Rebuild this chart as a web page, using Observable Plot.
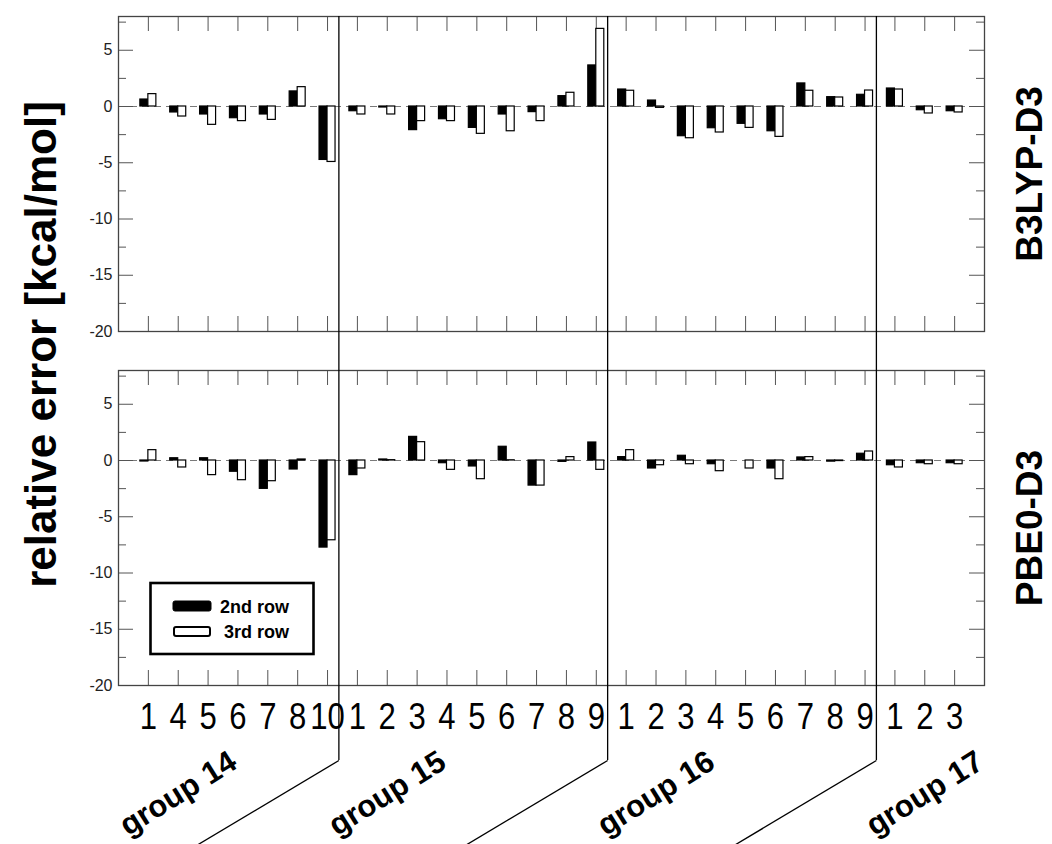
<!DOCTYPE html>
<html>
<head>
<meta charset="utf-8">
<script src="https://cdn.jsdelivr.net/npm/d3@7"></script>
<script src="https://cdn.jsdelivr.net/npm/@observablehq/plot@0.6"></script>
<style>
  body { margin: 0; background: #fff; }
  #wrap { position: relative; width: 1052px; height: 844px; overflow: hidden; }
  #legend { position: absolute; left: 0; top: 0; pointer-events: none; }
</style>
</head>
<body>
<div id="wrap"></div>
<script>
// ---------------- data ----------------
const groups = ["group 14", "group 15", "group 16", "group 17"];
const groupTickLabels = [
  ["1", "4", "5", "6", "7", "8", "10"],
  ["1", "2", "3", "4", "5", "6", "7", "8", "9"],
  ["1", "2", "3", "4", "5", "6", "7", "8", "9"],
  ["1", "2", "3"]
];
const methods = ["B3LYP-D3", "PBE0-D3"];
const series = ["2nd row", "3rd row"];

const b3lyp2nd = [0.62, -0.53, -0.71, -1.04, -0.71, 1.34, -4.75,
                  -0.42, -0.09, -2.1, -1.13, -1.9, -0.71, -0.5, 0.92, 3.65,
                  1.51, 0.53, -2.64, -1.93, -1.54, -2.2, 2.05, 0.83, 1.04,
                  1.6, -0.33, -0.42];
const b3lyp3rd = [1.1, -0.89, -1.63, -1.3, -1.19, 1.72, -4.93,
                  -0.71, -0.71, -1.3, -1.3, -2.43, -2.2, -1.3, 1.22, 6.9,
                  1.4, -0.12, -2.82, -2.31, -1.9, -2.7, 1.4, 0.8, 1.42,
                  1.51, -0.62, -0.53];
const pbe02nd = [-0.09, 0.2, 0.2, -1.0, -2.52, -0.8, -7.74,
                 -1.3, 0.09, 2.1, -0.24, -0.53, 1.22, -2.23, -0.12, 1.6,
                 0.3, -0.71, 0.42, -0.33, 0.0, -0.71, 0.27, -0.1, 0.6,
                 -0.42, -0.24, -0.24];
const pbe03rd = [0.92, -0.62, -1.3, -1.75, -1.84, 0.09, -7.09,
                 -0.71, 0.03, 1.63, -0.83, -1.66, 0.02, -2.23, 0.3, -0.83,
                 0.92, -0.42, -0.33, -0.95, -0.71, -1.66, 0.3, -0.05, 0.8,
                 -0.62, -0.33, -0.33];

const yMajorTicks = [-20, -15, -10, -5, 0, 5];
const yMinorTicks = [-17.5, -12.5, -7.5, -2.5, 2.5, 7.5];
const yAxisTitle = "relative error [kcal/mol]";

// ---------------- tables built from the arrays ----------------
const cats = [];
const groupStart = [];
const groupEnd = [];
groupTickLabels.forEach((labels, g) => {
  groupStart.push(cats.length + 1);
  labels.forEach(l => cats.push({idx: cats.length + 1, group: groups[g], label: l}));
  groupEnd.push(cats.length);
});
const valuesBy = {
  "B3LYP-D3": {"2nd row": b3lyp2nd, "3rd row": b3lyp3rd},
  "PBE0-D3": {"2nd row": pbe02nd, "3rd row": pbe03rd}
};
const rows = [];
for (const m of methods) for (const s of series) {
  valuesBy[m][s].forEach((v, i) => rows.push({idx: cats[i].idx, method: m, series: s, value: v}));
}
const xTickPos = cats.map(c => c.idx);

// ---------------- layout ----------------
const W = 1052, H = 844;
const mL = 118, mR = 68, mT = 16, mB = 159;
const panelH = 315, gap = 39;
const xDomain = [0, cats.length + 1];
const yDomain = [-20, 8];
const plotW = W - mL - mR;
const unitX = plotW / (xDomain[1] - xDomain[0]);
const unitY = panelH / (yDomain[1] - yDomain[0]);
const barW = 8 / unitX;
// value in the top panel's y units for an absolute pixel row (annotations only)
const topY = px => yDomain[1] - (px - mT) / unitY;
const topFacet = () => methods[0];
const seps = groupEnd.slice(0, -1).map(e => e + 0.38);
const font = "'Liberation Sans', Arial, sans-serif";

const chart = Plot.plot({
  width: W, height: H,
  marginLeft: mL, marginRight: mR, marginTop: mT, marginBottom: mB,
  style: {fontFamily: font, background: "white", overflow: "visible"},
  x: {domain: xDomain},
  y: {domain: yDomain},
  fy: {domain: methods, paddingInner: gap / (panelH + gap), paddingOuter: 0, axis: null},
  marks: [
    Plot.ruleY([0], {stroke: "#7a7a7a", strokeDasharray: "7,5", strokeWidth: 1.2}),
    // inward ticks
    Plot.tickX(xTickPos, {x: d => d, insetBottom: panelH - 15, stroke: "#555"}),
    Plot.tickX(xTickPos, {x: d => d, insetTop: panelH - 15, stroke: "#555"}),
    Plot.tickY(yMajorTicks, {y: d => d, insetRight: plotW - 15, stroke: "#555"}),
    Plot.tickY(yMajorTicks, {y: d => d, insetLeft: plotW - 15, stroke: "#555"}),
    Plot.tickY(yMinorTicks, {y: d => d, insetRight: plotW - 8, stroke: "#555"}),
    Plot.tickY(yMinorTicks, {y: d => d, insetLeft: plotW - 8, stroke: "#555"}),
    // bars
    Plot.rectY(rows, {
      x1: d => d.series === series[0] ? d.idx - barW : d.idx,
      x2: d => d.series === series[0] ? d.idx : d.idx + barW,
      y1: 0, y2: "value", fy: "method",
      fill: d => d.series === series[0] ? "black" : "white",
      stroke: "black", strokeWidth: 1.2
    }),
    Plot.frame({stroke: "#444", strokeWidth: 1.3}),
    // axes
    Plot.axisY(yMajorTicks, {anchor: "left", tickSize: 0, tickPadding: 6, fontSize: 16,
      tickFormat: d => String(d), fill: "#222", label: null}),
    Plot.axisX(xTickPos, {anchor: "bottom", tickSize: 0, tickPadding: 17, fontSize: 37,
      tickFormat: i => cats[i - 1].label, fill: "black", label: null}),
    // facet (method) labels on the right
    Plot.text(methods, {fy: d => d, text: d => d, frameAnchor: "right", textAnchor: "middle",
      rotate: -90, dx: 46, fontSize: 37, fontWeight: "bold", fill: "black"}),
    // y title
    Plot.text([yAxisTitle], {fy: topFacet, text: d => d, frameAnchor: "left", y: topY(344),
      textAnchor: "middle", rotate: -90, dx: -77, fontSize: 44, fontWeight: "bold", fill: "black"}),
    // group separators
    Plot.ruleX(seps, {x: d => d, y1: yDomain[1], y2: topY(760), fy: topFacet, stroke: "black", strokeWidth: 1.3}),
    Plot.link(seps, {x1: d => d, y1: topY(760), x2: d => d - 144 / unitX, y2: topY(846),
      fy: topFacet, stroke: "black", strokeWidth: 1.3}),
    Plot.text(groups, {x: (d, i) => groupStart[i] + 1, y: topY(793), fy: topFacet, text: d => d,
      rotate: -32, fontSize: 31, fontWeight: "bold", fill: "black"})
  ]
});

// condense the large category digits horizontally, as in the original figure
d3.select(chart).selectAll('g[aria-label="x-axis tick label"] text')
  .attr("transform", function () { return (this.getAttribute("transform") || "") + " scale(0.84,1)"; });

const wrap = document.getElementById("wrap");
wrap.appendChild(chart);

// legend box (inside lower panel)
const ns = "http://www.w3.org/2000/svg";
const lg = document.createElementNS(ns, "svg");
lg.setAttribute("id", "legend");
lg.setAttribute("width", W);
lg.setAttribute("height", H);
lg.innerHTML = `
  <rect x="150.5" y="583" width="163" height="71" fill="white" stroke="black" stroke-width="2.6"/>
  <rect x="173" y="601" width="38" height="10" rx="2" fill="black" stroke="black" stroke-width="1"/>
  <rect x="174" y="627" width="36" height="9" rx="2" fill="white" stroke="black" stroke-width="2"/>
  <text x="220" y="613" font-family="${font}" font-weight="bold" font-size="18" fill="black">${series[0]}</text>
  <text x="224" y="638" font-family="${font}" font-weight="bold" font-size="18" fill="black">${series[1]}</text>
`;
wrap.appendChild(lg);
</script>
</body>
</html>
